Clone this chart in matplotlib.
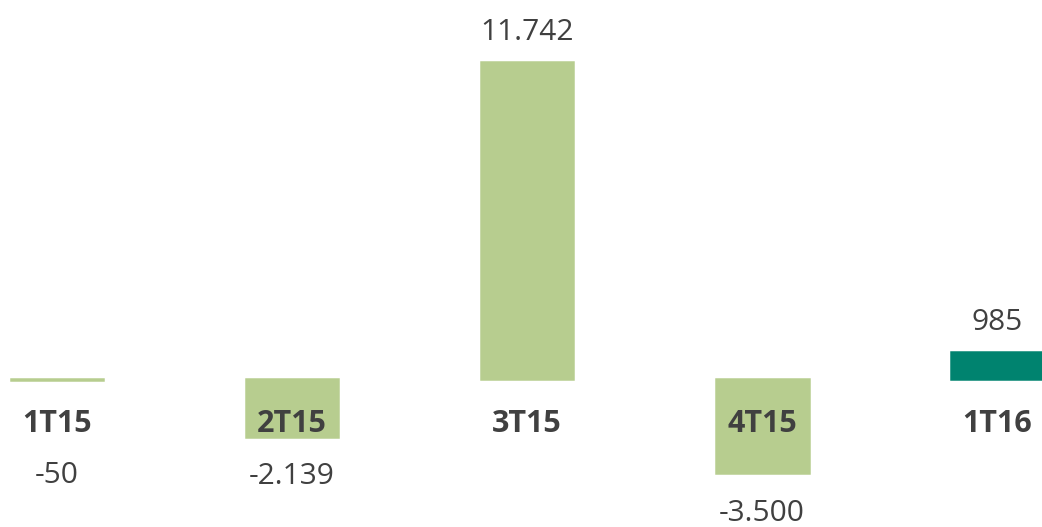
import matplotlib.pyplot as plt

# quarterly values (thousands separator shown as '.')
quarters = ['1T15', '2T15', '3T15', '4T15', '1T16']
values = [-50, -2139, 11742, -3500, 985]
colors = ['#B7CD8F', '#B7CD8F', '#B7CD8F', '#B7CD8F', '#00836F']

plt.rcParams['font.family'] = ['Open Sans', 'DejaVu Sans']

fig = plt.figure(figsize=(10.42, 5.27), dpi=100)
ax = fig.add_axes([0, 0, 1, 1])

x = range(len(quarters))
ax.bar(x, values, width=0.395, color=colors, edgecolor=colors, linewidth=1.8)

ax.set_xlim(-0.2426, 4.191)
ax.set_ylim(-5482, 14037)
ax.axis('off')

text_color = '#404040'
for i, (q, v) in enumerate(zip(quarters, values)):
    # category label just below the zero line
    ax.annotate(q, xy=(i, 0), xytext=(0, -32.5), textcoords='offset points',
                ha='center', va='center', fontsize=22, fontweight='bold',
                color=text_color)
    label = f'{v:,}'.replace(',', '.')
    if v >= 0:
        ax.annotate(label, xy=(i, v), xytext=(0, 21.5), textcoords='offset points',
                    ha='center', va='center', fontsize=21.5, color=text_color)
    else:
        ax.annotate(label, xy=(i, min(v, -2100)), xytext=(0, -28.5),
                    textcoords='offset points', ha='center', va='center',
                    fontsize=21.5, color=text_color)

plt.savefig('out.png', dpi=100)
